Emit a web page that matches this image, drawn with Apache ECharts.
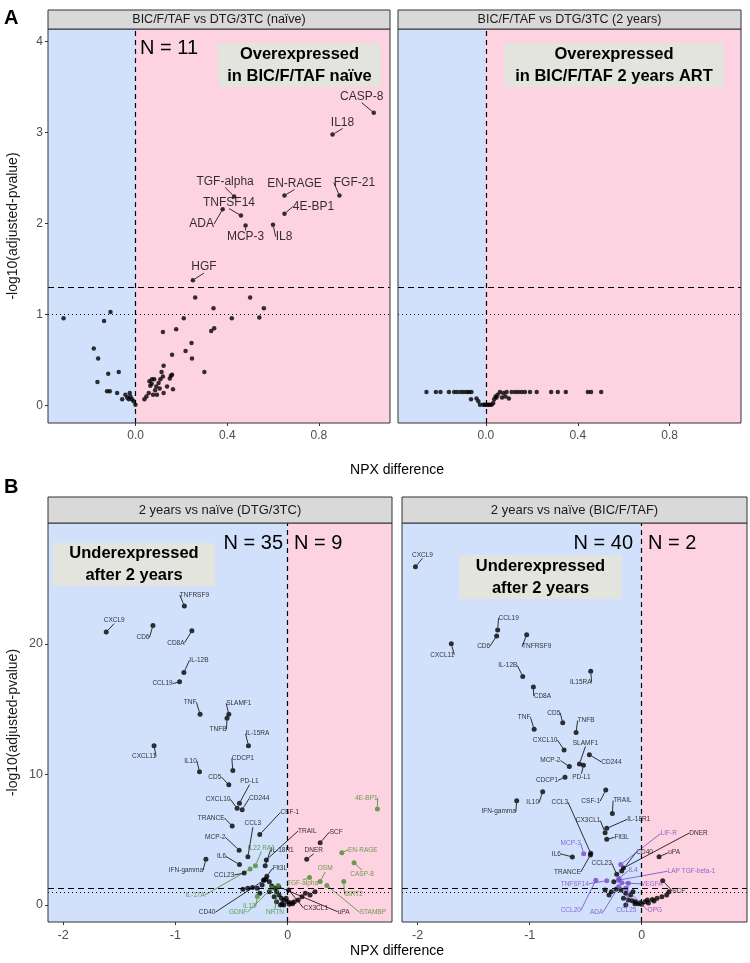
<!DOCTYPE html>
<html>
<head>
<meta charset="utf-8">
<script src="https://cdn.jsdelivr.net/npm/echarts@6/dist/echarts.min.js"></script>
<style>
  html, body { margin: 0; padding: 0; background: #fff; }
  #chart { width: 750px; height: 963px; }
</style>
</head>
<body>
<div id="chart"></div>
<script>
// ---------- data ----------
// Panel A: BIC/F/TAF vs DTG/3TC (naive)
const naiveGenes = ['CASP-8', 'IL18', 'TGF-alpha', 'EN-RAGE', 'FGF-21', 'TNFSF14', '4E-BP1', 'ADA', 'MCP-3', 'IL8', 'HGF']
const naiveGenePts = [[1.04, 3.22], [0.86, 2.98], [0.43, 2.30], [0.65, 2.31], [0.89, 2.31], [0.46, 2.09],
  [0.65, 2.11], [0.38, 2.16], [0.48, 1.98], [0.60, 1.99], [0.25, 1.38]]
const naiveOther = [[0.26, 1.19], [0.50, 1.19], [0.34, 1.07], [0.56, 1.07], [0.21, 0.96], [0.42, 0.96], [0.54, 0.97],
  [-0.315, 0.96], [-0.138, 0.93], [-0.11, 1.03], [-0.183, 0.63], [-0.164, 0.52], [-0.167, 0.26], [-0.12, 0.35],
  [-0.074, 0.37], [-0.125, 0.16], [-0.113, 0.16], [-0.081, 0.14], [-0.059, 0.07], [-0.045, 0.12], [-0.037, 0.09],
  [-0.03, 0.07], [-0.023, 0.10], [-0.016, 0.07], [-0.009, 0.05], [-0.001, 0.01], [-0.026, 0.14], [0.038, 0.07],
  [0.047, 0.10], [0.057, 0.14], [0.064, 0.22], [0.071, 0.29], [0.081, 0.29], [0.09, 0.21], [0.093, 0.12],
  [0.10, 0.25], [0.108, 0.29], [0.076, 0.12], [0.122, 0.14], [0.105, 0.19], [0.137, 0.21], [0.149, 0.30],
  [0.154, 0.33], [0.159, 0.34], [0.119, 0.32], [0.113, 0.37], [0.122, 0.44], [0.119, 0.81], [0.177, 0.84],
  [0.159, 0.56], [0.163, 0.18], [0.218, 0.60], [0.244, 0.69], [0.246, 0.52], [0.33, 0.82], [0.343, 0.85],
  [0.30, 0.37], [0.07, 0.24], [0.085, 0.17], [0.06, 0.27]]

// Panel A: BIC/F/TAF vs DTG/3TC (2 years)
const twoYearOther = [[-0.259, 0.15], [-0.218, 0.15], [-0.198, 0.15], [-0.161, 0.15], [-0.138, 0.15], [-0.124, 0.15],
  [-0.109, 0.15], [-0.097, 0.15], [-0.084, 0.15], [-0.074, 0.15], [-0.063, 0.15], [-0.065, 0.07], [-0.041, 0.08],
  [-0.033, 0.05], [-0.026, 0.01], [-0.012, 0.01], [-0.005, 0.01], [0.003, 0.01], [0.01, 0.01], [0.017, 0.01],
  [0.025, 0.01], [0.032, 0.03], [0.036, 0.07], [0.042, 0.10], [0.046, 0.09], [0.051, 0.12], [0.061, 0.15],
  [0.07, 0.09], [0.076, 0.14], [0.085, 0.10], [0.09, 0.15], [0.10, 0.08], [0.112, 0.15], [0.127, 0.15],
  [0.141, 0.15], [0.156, 0.15], [0.17, 0.15], [0.192, 0.15], [0.221, 0.15], [0.284, 0.15], [0.313, 0.15],
  [0.348, 0.15], [0.444, 0.15], [0.458, 0.15], [0.502, 0.15]]

// Panel B: 2 years vs naive (DTG/3TC)
const dtgGenes = ['TNFRSF9', 'CXCL9', 'CD6', 'CD8A', 'IL-12B', 'CCL19', 'TNF', 'SLAMF1', 'TNFB', 'IL-15RA', 'CXCL11',
  'IL10', 'CDCP1', 'CD5', 'PD-L1', 'CXCL10', 'CD244', 'TRANCE', 'CSF-1', 'CCL3', 'MCP-2', 'IL6', 'IFN-gamma',
  'CCL23', 'IL-18R1', 'TRAIL', 'SCF', 'DNER', 'Flt3L', 'CD40', 'CX3CL1', 'uPA']
const dtgGenePts = [[-0.92, 22.9], [-1.616, 20.9], [-1.2, 21.4], [-0.853, 21.0], [-0.924, 17.8], [-0.963, 17.1],
  [-0.78, 14.6], [-0.524, 14.6], [-0.54, 14.3], [-0.349, 12.2], [-1.19, 12.2], [-0.785, 10.2], [-0.488, 10.3],
  [-0.524, 9.2], [-0.429, 7.8], [-0.45, 7.4], [-0.405, 7.3], [-0.494, 6.05], [-0.248, 5.4], [-0.354, 3.7],
  [-0.432, 4.2], [-0.429, 3.1], [-0.728, 3.5], [-0.387, 2.45], [-0.2, 3.0], [-0.19, 3.45], [0.29, 4.77],
  [0.17, 3.5], [-0.185, 2.2], [-0.21, 1.9], [0.01, 1.15], [-0.08, 1.4]]
const dtgGreenGenes = ['IL22 RA1', 'EN-RAGE', 'CASP-8', 'OSM', 'TGF-alpha', '4E-BP1', 'IL-17A', 'IL13', 'GDNF',
  'NRTN', 'SIRT2', 'STAMBP']
const dtgGreenPts = [[-0.287, 3.0], [0.483, 4.0], [0.592, 3.24], [0.29, 1.8], [0.195, 2.1], [0.8, 7.35],
  [-0.334, 2.75], [-0.27, 0.65], [-0.138, 1.3], [-0.085, 1.5], [0.5, 1.8], [0.35, 1.5]]
const dtgOther = [[-0.398, 1.2], [-0.355, 1.28], [-0.313, 1.35], [-0.27, 1.28], [-0.227, 1.53], [-0.214, 1.91],
  [-0.193, 1.97], [-0.163, 1.79], [-0.141, 1.45], [-0.111, 1.28], [-0.098, 1.02], [-0.077, 0.77], [-0.055, 0.51],
  [-0.034, 0.38], [0, 0.26], [0.03, 0.18], [0.06, 0.26], [0.094, 0.38], [0.128, 0.64], [0.158, 0.9], [0.2, 0.77],
  [0.244, 1.02], [-0.034, 0], [-0.013, 0.51], [-0.12, 0.64], [-0.163, 1.02], [-0.248, 0.9], [-0.064, 0],
  [-0.099, 0.26], [-0.05, 0.1], [0.015, 0.05], [0.045, 0.1]]

// Panel B: 2 years vs naive (BIC/F/TAF)
const bicGenes = ['CXCL9', 'CCL19', 'CD6', 'TNFRSF9', 'CXCL11', 'IL-12B', 'IL15RA', 'CD8A', 'CD5', 'TNF', 'TNFB',
  'CXCL10', 'SLAMF1', 'CD244', 'MCP-2', 'PD-L1', 'CDCP1', 'IL10', 'IFN-gamma', 'CSF-1', 'TRAIL', 'CCL3', 'CX3CL1',
  'IL-18R1', 'Flt3L', 'TRANCE', 'IL6', 'CCL23', 'CD40', 'uPA', 'DNER', 'SCF']
const bicGenePts = [[-2.02, 25.9], [-1.286, 21.05], [-1.295, 20.6], [-1.027, 20.7], [-1.70, 20.0], [-1.062, 17.5],
  [-0.455, 17.9], [-0.967, 16.7], [-0.705, 13.95], [-0.96, 13.45], [-0.586, 13.2], [-0.693, 11.87], [-0.556, 10.8],
  [-0.467, 11.5], [-0.646, 10.6], [-0.52, 10.7], [-0.685, 9.78], [-0.884, 8.68], [-1.116, 7.99], [-0.321, 8.8],
  [-0.262, 7.0], [-0.455, 3.96], [-0.327, 5.54], [-0.312, 5.87], [-0.312, 5.03], [-0.458, 3.83], [-0.619, 3.68],
  [-0.223, 2.35], [-0.179, 2.6], [0.155, 3.7], [-0.163, 2.83], [0.1875, 1.86]]
const bicPurpleGenes = ['MCP-3', 'LIF-R', 'IL4', 'LAP TGF-beta-1', 'VEGFA', 'TNFSF14', 'CCL20', 'ADA', 'CCL25', 'OPG']
const bicPurplePts = [[-0.518, 3.93], [-0.187, 3.1], [-0.202, 2.04], [-0.208, 1.9], [-0.178, 1.7], [-0.312, 1.86],
  [-0.41, 1.9], [-0.206, 1.4], [-0.12, 1.66], [-0.142, 1.28]]
const bicOther = [[-0.327, 1.15], [-0.271, 1.02], [-0.228, 1.2], [-0.292, 0.77], [-0.163, 0.51], [-0.142, 0],
  [-0.12, 0.38], [-0.086, 0.33], [-0.056, 0.26], [-0.013, 0.18], [0.03, 0.26], [0.051, 0.38], [0.094, 0.43],
  [0.137, 0.51], [0.18, 0.64], [0.223, 0.77], [0.244, 1.02], [-0.099, 0.77], [-0.078, 1.02], [-0.142, 0.9],
  [-0.185, 1.15], [-0.249, 1.79], [-0.03, 0.1], [0, 0.05], [0.06, 0.15], [0.11, 0.3], [-0.06, 0.1]]

// tick labels
const aXTicks = [0, 0.4, 0.8]
const aYTicks = [0, 1, 2, 3, 4]
const bXTicks = [-2, -1, 0]
const bYTicks = [0, 10, 20]

// ---------- label layout (pixel offsets label centre - point) ----------
const naiveOffsets = {
  'CASP-8': [-12, -16], 'IL18': [10, -12], 'TGF-alpha': [-9, -15], 'EN-RAGE': [10, -12], 'FGF-21': [15, -13],
  'TNFSF14': [-12, -13], '4E-BP1': [29, -7], 'ADA': [-21, 15], 'MCP-3': [0, 11], 'IL8': [11, 12], 'HGF': [11, -13]
}
const dtgOffsets = {
  'TNFRSF9': [10, -11], 'CXCL9': [8, -12], 'CD6': [-10, 12], 'CD8A': [-16, 12], 'IL-12B': [15, -12],
  'CCL19': [-17, 2], 'TNF': [-10, -12], 'SLAMF1': [10, -11], 'TNFB': [-9, 11], 'IL-15RA': [9, -12],
  'CXCL11': [-10, 11], 'IL10': [-9, -11], 'CDCP1': [10, -12], 'CD5': [-14, -8], 'PD-L1': [10, -22],
  'CXCL10': [-19, -9], 'CD244': [17, -11], 'TRANCE': [-21, -8], 'CSF-1': [30, -22], 'CCL3': [5, -33],
  'MCP-2': [-24, -13], 'IL6': [-18, -8], 'IFN-gamma': [-20, 11], 'CCL23': [-20, 2], 'IL-18R1': [17, -16],
  'TRAIL': [41, -29], 'SCF': [16, -11], 'DNER': [7, -9], 'Flt3L': [13, -8], 'CD40': [-57, 32],
  'CX3CL1': [27, 18], 'uPA': [65, 25]
}
const dtgGreenOffsets = {
  'IL22 RA1': [6, -18], 'EN-RAGE': [21, -3], 'CASP-8': [8, 11], 'OSM': [5, -13], 'TGF-alpha': [-7, 6],
  '4E-BP1': [-11, -11], 'IL-17A': [-55, 26], 'IL13': [-8, 10], 'GDNF': [-34, 24], 'NRTN': [-3, 27],
  'SIRT2': [10, 13], 'STAMBP': [46, 27]
}
const bicOffsets = {
  'CXCL9': [7, -12], 'CCL19': [11, -12], 'CD6': [-13, 10], 'TNFRSF9': [10, 12], 'CXCL11': [-9, 11],
  'IL-12B': [-15, -11], 'IL15RA': [-10, 11], 'CD8A': [9, 9], 'CD5': [-9, -10], 'TNF': [-10, -12],
  'TNFB': [10, -12], 'CXCL10': [-19, -10], 'SLAMF1': [6, -21], 'CD244': [22, 7], 'MCP-2': [-19, -6],
  'PD-L1': [-2, 12], 'CDCP1': [-18, 3], 'IL10': [-10, 11], 'IFN-gamma': [-18, 11], 'CSF-1': [-15, 11],
  'TRAIL': [10, -13], 'CCL3': [-31, -51], 'CX3CL1': [-17, -12], 'IL-18R1': [32, -9], 'Flt3L': [15, -2],
  'TRANCE': [-23, 17], 'IL6': [-16, -3], 'CCL23': [-15, -11], 'CD40': [23, -19], 'uPA': [15, -4],
  'DNER': [75, -35], 'SCF': [16, 10]
}
const bicPurpleOffsets = {
  'MCP-3': [-13, -10], 'LIF-R': [48, -31], 'IL4': [14, -8], 'LAP TGF-beta-1': [73, -9], 'VEGFA': [30, 1],
  'TNFSF14': [-32, 3], 'CCL20': [-25, 30], 'ADA': [-22, 25], 'CCL25': [-2, 27], 'OPG': [29, 22]
}

// ---------- style ----------
const FONT = '"Liberation Sans", Arial, Helvetica, sans-serif'
const BLUE = '#d2e1fb'
const PINK = '#fdd3e1'
const GREEN = '#4a8a2a'
const PURPLE = '#7446c6'
const BOX = '#e4e4de'

const panels = [
  { grid: { left: 48, top: 29, width: 342, height: 394 }, xMin: -0.383, xMax: 1.111, yMin: -0.19, yMax: 4.14,
    xTicks: aXTicks, yTicks: aYTicks, showY: true, dec: 1 },
  { grid: { left: 398, top: 29, width: 343, height: 394 }, xMin: -0.383, xMax: 1.111, yMin: -0.19, yMax: 4.14,
    xTicks: aXTicks, yTicks: aYTicks, showY: false, dec: 1 },
  { grid: { left: 48, top: 523, width: 344, height: 399 }, xMin: -2.135, xMax: 0.93, yMin: -1.3, yMax: 29.25,
    xTicks: bXTicks, yTicks: bYTicks, showY: true, dec: 0 },
  { grid: { left: 402, top: 523, width: 345, height: 399 }, xMin: -2.14, xMax: 0.94, yMin: -1.3, yMax: 29.25,
    xTicks: bXTicks, yTicks: bYTicks, showY: false, dec: 0 }
]

const chart = echarts.init(document.getElementById('chart'), null, { renderer: 'canvas' })

const grids = panels.map(p => Object.assign({
  show: true, backgroundColor: PINK, borderWidth: 0, containLabel: false
}, p.grid))

const xAxes = panels.map((p, i) => ({
  gridIndex: i, type: 'value', min: p.xMin, max: p.xMax, position: 'bottom',
  splitLine: { show: false }, axisLine: { show: false, onZero: false },
  axisTick: { show: true, length: 3, customValues: p.xTicks, lineStyle: { color: '#333' } },
  axisLabel: { customValues: p.xTicks, color: '#4d4d4d', fontSize: i < 2 ? 12 : 12.5, fontFamily: FONT, margin: 7,
    formatter: v => Number(v).toFixed(p.dec) }
}))

const yAxes = panels.map((p, i) => ({
  gridIndex: i, type: 'value', min: p.yMin, max: p.yMax, position: 'left',
  splitLine: { show: false }, axisLine: { show: false, onZero: false },
  axisTick: { show: p.showY, length: 3, customValues: p.yTicks, lineStyle: { color: '#333' } },
  axisLabel: { show: p.showY, customValues: p.yTicks, color: '#4d4d4d', fontSize: i < 2 ? 12 : 12.5,
    fontFamily: FONT, margin: 5 },
  name: p.showY ? '-log10(adjusted-pvalue)' : '',
  nameLocation: 'middle', nameGap: 28,
  nameTextStyle: { fontSize: 14, color: '#1a1a1a', fontFamily: FONT }
}))

function backgroundSeries(i) {
  const p = panels[i]
  return {
    type: 'scatter', xAxisIndex: i, yAxisIndex: i, data: [], z: 1, silent: true,
    markArea: {
      silent: true,
      itemStyle: { color: BLUE, opacity: 1 },
      data: [[{ coord: [p.xMin, p.yMin] }, { coord: [0, p.yMax] }]]
    },
    markLine: {
      silent: true, symbol: 'none', label: { show: false },
      lineStyle: { color: '#000', width: 1.2 },
      data: [
        { xAxis: 0, lineStyle: { type: [5, 4] } },
        { yAxis: 1.301, lineStyle: { type: [6, 4] } },
        { yAxis: 1, lineStyle: { type: [1, 3] } }
      ]
    }
  }
}

function plainSeries(i, pts, size) {
  return {
    type: 'scatter', xAxisIndex: i, yAxisIndex: i, z: 3, silent: true,
    symbolSize: size, itemStyle: { color: '#000' }, data: pts
  }
}

function geneSeries(i, names, pts, color, offsets, size, fontSize) {
  return {
    type: 'scatter', xAxisIndex: i, yAxisIndex: i, z: 4, silent: true,
    symbolSize: size, itemStyle: { color: color },
    data: pts.map((v, k) => ({ name: names[k], value: v })),
    label: { show: true, position: 'inside', formatter: '{b}', color: color, fontSize: fontSize, fontFamily: FONT },
    labelLine: { show: true, lineStyle: { color: color, width: 0.8 } },
    labelLayout: params => {
      const o = offsets[params.text] || [0, -10]
      return { dx: o[0], dy: o[1] }
    }
  }
}

const series = [
  backgroundSeries(0), backgroundSeries(1), backgroundSeries(2), backgroundSeries(3),
  plainSeries(0, naiveOther, 4.5),
  geneSeries(0, naiveGenes, naiveGenePts, '#000', naiveOffsets, 4.5, 12),
  plainSeries(1, twoYearOther, 4.5),
  plainSeries(2, dtgOther, 5),
  geneSeries(2, dtgGenes, dtgGenePts, '#000', dtgOffsets, 5, 6.5),
  geneSeries(2, dtgGreenGenes, dtgGreenPts, GREEN, dtgGreenOffsets, 5, 6.5),
  plainSeries(3, bicOther, 5),
  geneSeries(3, bicGenes, bicGenePts, '#000', bicOffsets, 5, 6.5),
  geneSeries(3, bicPurpleGenes, bicPurplePts, PURPLE, bicPurpleOffsets, 5, 6.5)
]

// strips, boxes, borders and other annotations
function strip(x, y, w, h, text, size) {
  return [
    { type: 'rect', shape: { x: x, y: y, width: w, height: h }, style: { fill: '#d9d9d9', stroke: '#333', lineWidth: 1 }, z: 10 },
    { type: 'text', x: x + w / 2, y: y + h / 2, z: 11,
      style: { text: text, fill: '#1a1a1a', font: size + 'px ' + FONT, align: 'center', verticalAlign: 'middle' } }
  ]
}
function border(g) {
  return { type: 'rect', shape: { x: g.left, y: g.top, width: g.width, height: g.height },
    style: { fill: null, stroke: '#333', lineWidth: 1 }, z: 10, silent: true }
}
function box(x, y, w, h, text) {
  return [
    { type: 'rect', shape: { x: x, y: y, width: w, height: h }, style: { fill: BOX }, z: 10 },
    { type: 'text', x: x + w / 2, y: y + h / 2, z: 11,
      style: { text: text, fill: '#000', font: 'bold 16.5px ' + FONT, align: 'center', verticalAlign: 'middle', lineHeight: 22 } }
  ]
}
function label(x, y, text, font, align) {
  return { type: 'text', x: x, y: y, z: 11,
    style: { text: text, fill: '#000', font: font, align: align || 'left', verticalAlign: 'middle' } }
}

const graphics = [].concat(
  panels.map(p => border(p.grid)),
  strip(48, 10, 342, 19, 'BIC/F/TAF vs DTG/3TC (naïve)', 12.5),
  strip(398, 10, 343, 19, 'BIC/F/TAF vs DTG/3TC (2 years)', 12.5),
  strip(48, 497, 344, 26, '2 years vs naïve (DTG/3TC)', 13),
  strip(402, 497, 345, 26, '2 years vs naïve (BIC/F/TAF)', 13),
  box(218, 43, 163, 44, 'Overexpressed\nin BIC/F/TAF naïve'),
  box(504, 43, 220, 44, 'Overexpressed\nin BIC/F/TAF 2 years ART'),
  box(53, 543, 162, 43, 'Underexpressed\nafter 2 years'),
  box(459, 555, 163, 44, 'Underexpressed\nafter 2 years'),
  [
    label(140, 48, 'N = 11', '20px ' + FONT),
    label(283, 543, 'N = 35', '20px ' + FONT, 'right'),
    label(294, 543, 'N = 9', '20px ' + FONT),
    label(633, 543, 'N = 40', '20px ' + FONT, 'right'),
    label(648, 543, 'N = 2', '20px ' + FONT),
    label(4, 18, 'A', 'bold 20px ' + FONT),
    label(4, 487, 'B', 'bold 20px ' + FONT),
    label(397, 470, 'NPX difference', '14px ' + FONT, 'center'),
    label(397, 951, 'NPX difference', '14px ' + FONT, 'center')
  ]
)

chart.setOption({
  animation: false,
  backgroundColor: '#fff',
  textStyle: { fontFamily: FONT },
  grid: grids,
  xAxis: xAxes,
  yAxis: yAxes,
  series: series,
  graphic: graphics
})
</script>
</body>
</html>
